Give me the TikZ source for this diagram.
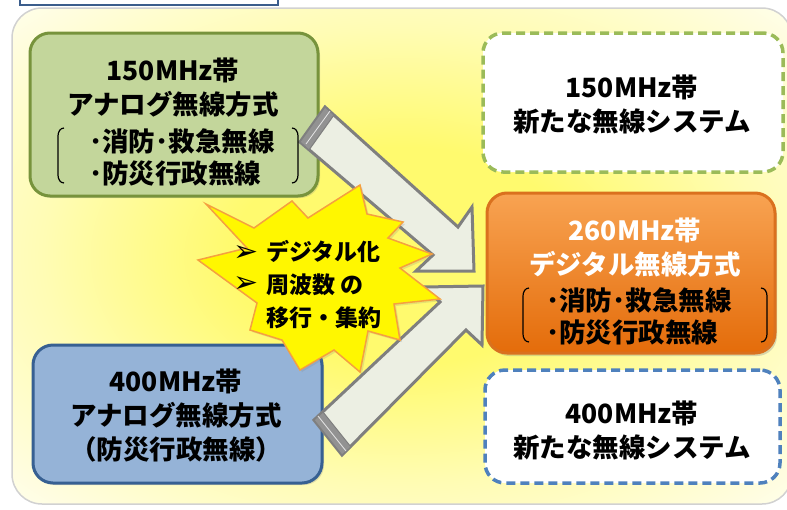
\documentclass[tikz,border=0pt]{standalone}
\usepackage{fontspec}
\newfontfamily\jp{Noto Sans CJK JP}
\newfontfamily\sym{DejaVu Sans}
\usetikzlibrary{shadows}
\definecolor{ycore}{HTML}{FFFA6E}
\definecolor{ymid}{HTML}{FFFCB4}
\definecolor{yedge}{HTML}{FFFEF2}
\definecolor{greenfill}{HTML}{C3D69B}
\definecolor{greenline}{HTML}{77933C}
\definecolor{bluefill}{HTML}{95B3D7}
\definecolor{blueline}{HTML}{376092}
\definecolor{greendash}{HTML}{9BBB59}
\definecolor{bluedash}{HTML}{4F81BD}
\definecolor{orangeT}{HTML}{F8A352}
\definecolor{orangeB}{HTML}{E46C0A}
\definecolor{orangeline}{HTML}{DA711E}
\definecolor{arrfill}{HTML}{ECEFE3}
\definecolor{arrline}{HTML}{7F7F7F}
\definecolor{starfill}{HTML}{FFF700}
\definecolor{starline}{HTML}{F5A040}
\definecolor{topline}{HTML}{3B5D8C}
\pgfdeclareradialshading{panelglow}{\pgfpoint{0bp}{0bp}}{color(0bp)=(ycore); color(11bp)=(ycore); color(23bp)=(ymid); color(37bp)=(yedge); color(80bp)=(yedge)}
\begin{document}
\begin{tikzpicture}[x=1pt,y=-1pt,
  boxbase/.style={rectangle, rounded corners=20pt, line width=3pt, inner sep=0pt},
  solidgreen/.style={boxbase, draw=greenline, fill=greenfill, drop shadow={opacity=0.25, shadow xshift=2pt, shadow yshift=-2pt}},
  solidblue/.style={boxbase, draw=blueline, fill=bluefill, drop shadow={opacity=0.25, shadow xshift=2pt, shadow yshift=-2pt}},
  solidorange/.style={boxbase, draw=orangeline, top color=orangeT, bottom color=orangeB, drop shadow={opacity=0.3, shadow xshift=2pt, shadow yshift=-3pt}},
  dashgreen/.style={boxbase, draw=greendash, fill=white, line width=3.5pt, dash pattern=on 9pt off 5pt},
  dashblue/.style={boxbase, draw=bluedash, fill=white, line width=3.5pt, dash pattern=on 9pt off 5pt},
  jtxt/.style={font=\jp\bfseries\fontsize{26.5}{34}\selectfont, align=center, inner sep=0pt, text=black},
  listtxt/.style={font=\jp\bfseries\fontsize{26.5}{32}\selectfont, align=left, inner sep=0pt, anchor=west},
  startxt/.style={font=\jp\bfseries\fontsize{23}{33}\selectfont, align=left, inner sep=0pt, anchor=west},
  bullet/.style={font=\sym\fontsize{30}{30}\selectfont, inner sep=0pt},
  brack/.style={line width=1.2pt, draw=black},
  arrowbody/.style={fill=arrfill, draw=arrline, line width=3pt, line join=miter},
  tailband/.style={fill=arrline!85!white, draw=arrline, line width=1pt}
]
\useasboundingbox (0,0) rectangle (787,509);
% background panel
\shade[shading=panelglow, rounded corners=30pt] (12,8) rectangle (792,504);
\draw[draw=black!18, line width=1.5pt, rounded corners=30pt] (12,8) rectangle (792,504);
% top bar remnant
\draw[line width=2.5pt, draw=topline, fill=white] (20,-10) rectangle (278,5);

% boxes
\node[solidgreen, minimum width=288pt, minimum height=163pt] (boxA) at (174,114.5) {};
\node[solidblue, minimum width=289pt, minimum height=138pt] (boxB) at (177.5,414) {};
\node[dashgreen, minimum width=300pt, minimum height=139pt] (boxC) at (633,102.5) {};
\node[solidorange, minimum width=288pt, minimum height=160pt] (boxD) at (631,273) {};
\node[dashblue, minimum width=295pt, minimum height=113pt] (boxE) at (632.5,426.5) {};

% block arrows
\coordinate (aTailT) at (325,107);
\coordinate (aTailB) at (300,142);
\draw[arrowbody] (aTailT) -- (458,227) -- (472,207) -- (474,271) -- (416,271) -- (433,255) -- (aTailB) -- cycle;
\fill[tailband] (aTailT) -- (aTailB) -- (309,150) -- (334,115) -- cycle;
\draw[white!80!arrline, line width=0.8pt] (306,144) -- (330,111);

\coordinate (bTailT) at (314,420);
\coordinate (bTailB) at (342,455);
\draw[arrowbody] (bTailT) -- (440,302) -- (423,287) -- (483,286) -- (482,345) -- (466,330) -- (bTailB) -- cycle;
\fill[tailband] (bTailT) -- (bTailB) -- (351,447) -- (323,412) -- cycle;
\draw[white!80!arrline, line width=0.8pt] (318,416) -- (346,451);

% starburst
\draw[fill=starfill, draw=starline, line width=1.5pt, line join=miter,
      drop shadow={opacity=0.2, shadow xshift=2pt, shadow yshift=-2pt}]
  (206,204) -- (254,228) -- (292,201) -- (308,218) -- (360,185) -- (367,214)
  -- (403,222) -- (388,238) -- (432,254) -- (400,268) -- (440,299) -- (394,304)
  -- (400,340) -- (368,331) -- (360,372) -- (334,350) -- (300,370) -- (282,340)
  -- (250,330) -- (257,303) -- (198,260) -- (247,248) -- cycle;

% texts box A
\node[jtxt] (tA) at (173,87.5) {150MHz帯\\アナログ無線方式};
\node[listtxt] (lA) at (89,157.5) {･消防･救急無線\\･防災行政無線};
\draw[brack] (64,128) to[out=180,in=90] (58,136) -- (58,175) to[out=-90,in=180] (64,183);
\draw[brack] (292,128) to[out=0,in=90] (298,136) -- (298,175) to[out=-90,in=0] (292,183);

% texts box B
\node[jtxt] (tB) at (176,416) {400MHz帯\\アナログ無線方式\\（防災行政無線）};

% texts box C
\node[jtxt] (tC) at (632,104.5) {150MHz帯\\新たな無線システム};

% texts box D
\node[jtxt, text=white] (tD) at (635,247.5) {260MHz帯\\デジタル無線方式};
\node[listtxt] (lD) at (546,316) {･消防･救急無線\\･防災行政無線};
\draw[brack] (529,288) to[out=180,in=90] (523,296) -- (523,334) to[out=-90,in=180] (529,342);
\draw[brack] (761,288) to[out=0,in=90] (767,296) -- (767,334) to[out=-90,in=0] (761,342);

% texts box E
\node[jtxt] (tE) at (632,430) {400MHz帯\\新たな無線システム};

% star text
\node[bullet] (b1) at (246,253) {➢};
\node[bullet] (b2) at (246,284) {➢};
\node[startxt] (sT) at (266,285) {デジタル化\\周波数 の\\移行・集約};
\end{tikzpicture}
\end{document}
